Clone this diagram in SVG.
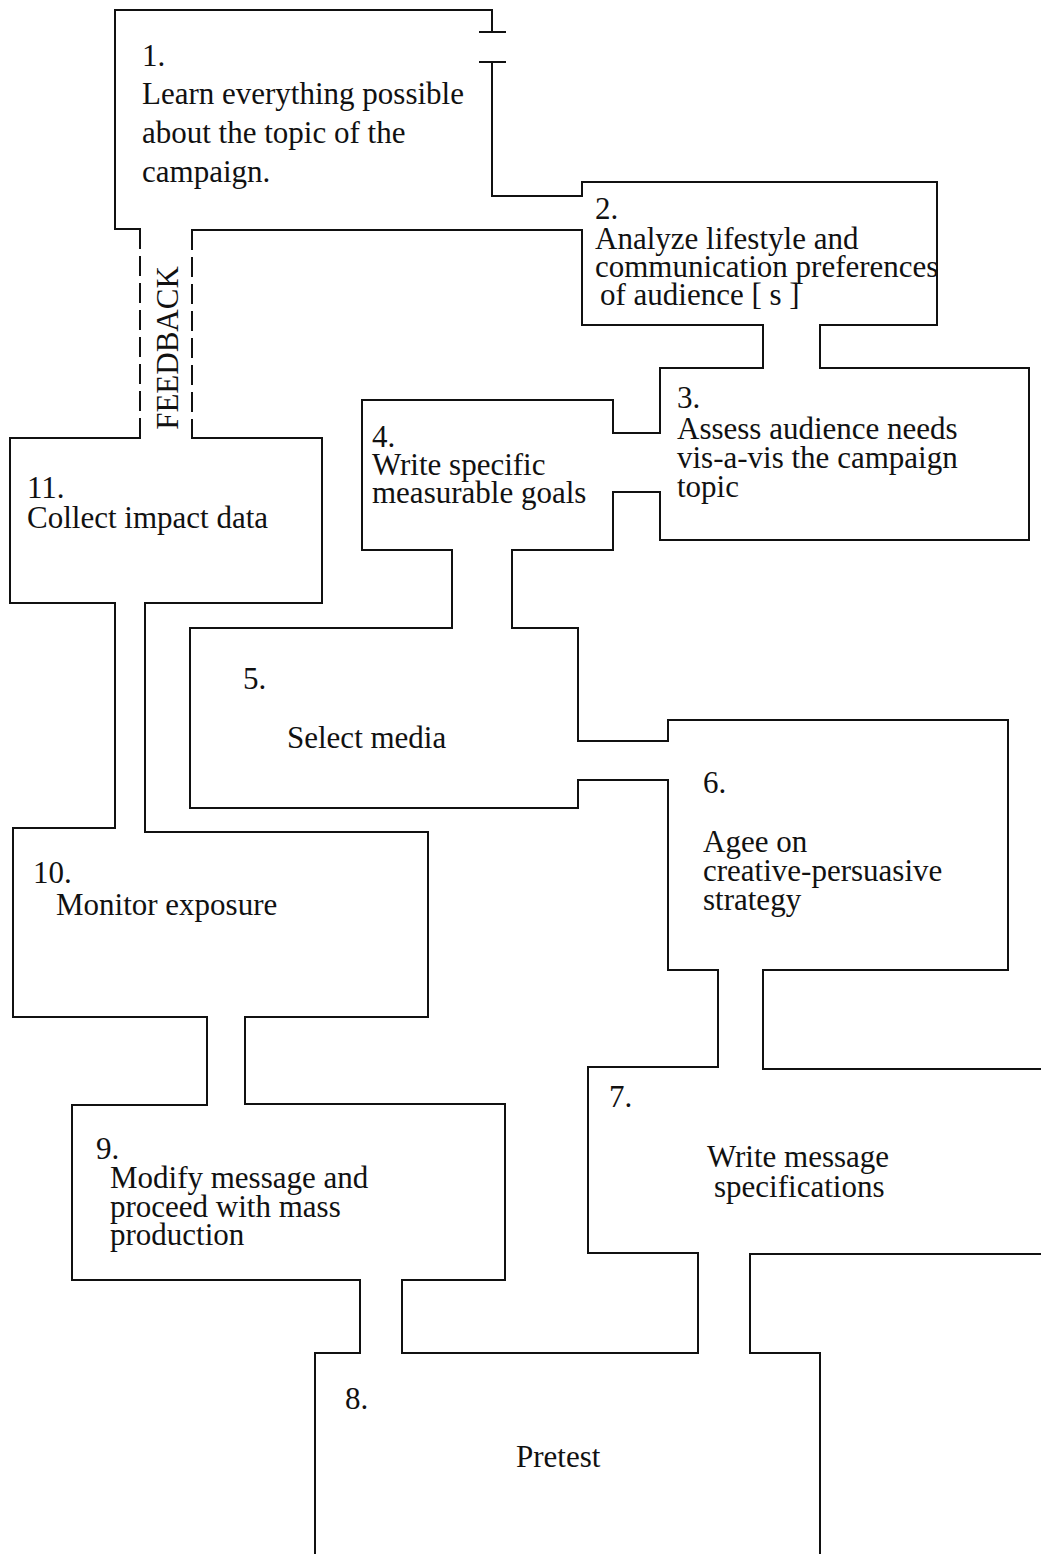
<svg xmlns="http://www.w3.org/2000/svg" width="1041" height="1554" viewBox="0 0 1041 1554">
<style>
.ln{fill:none;stroke:#111;stroke-width:2;stroke-linecap:square}
.dash{fill:none;stroke:#111;stroke-width:2;stroke-dasharray:20 7}
text{font-family:"Liberation Serif","Times New Roman",serif;font-size:31px;fill:#111}
</style>
<rect width="1041" height="1554" fill="#fff"/>
<g id="connectors">
<path class="ln" d="M480,62 H505 M492,62 V196 H582 M492,230 H582"/>
<path class="dash" d="M140,229 V438 M192,230 V438"/>
<text x="178" y="348" font-size="30" text-anchor="middle" transform="rotate(-90 178 348)">FEEDBACK</text>
<path class="ln" d="M763,325 V368 M820,325 V368"/>
<path class="ln" d="M660,433 H613 M660,492 H613"/>
<path class="ln" d="M452,550 V628 M512,550 V628"/>
<path class="ln" d="M578,741 H668 M578,780 H668"/>
<path class="ln" d="M718,970 V1067 M763,970 V1069"/>
<path class="ln" d="M698,1253 V1353 M750,1254 V1353"/>
<path class="ln" d="M360,1280 V1353 M402,1280 V1353"/>
<path class="ln" d="M207,1017 V1105 M245,1017 V1104"/>
<path class="ln" d="M115,603 V828 M145,603 V832"/>
</g>
<g id="node-1">
<path class="ln" d="M140,229 H115 V10 H492 V32 M480,32 H505 M192,230 H492"/>
<text x="142" y="66">1.</text>
<text x="142" y="104">Learn everything possible</text>
<text x="142" y="143">about the topic of the</text>
<text x="142" y="182">campaign.</text>
</g>
<g id="node-2">
<path class="ln" d="M582,196 V182 H937 V325 H820 M763,325 H582 V230"/>
<text x="595" y="219">2.</text>
<text x="595" y="249">Analyze lifestyle and</text>
<text x="595" y="277">communication preferences</text>
<text x="600" y="305">of audience [ s ]</text>
</g>
<g id="node-3">
<path class="ln" d="M763,368 H660 V433 M660,492 V540 H1029 V368 H820"/>
<text x="677" y="408">3.</text>
<text x="677" y="439">Assess audience needs</text>
<text x="677" y="468">vis-a-vis the campaign</text>
<text x="677" y="497">topic</text>
</g>
<g id="node-4">
<path class="ln" d="M613,433 V400 H362 V550 H452 M512,550 H613 V492"/>
<text x="372" y="447">4.</text>
<text x="372" y="475">Write specific</text>
<text x="372" y="503">measurable goals</text>
</g>
<g id="node-5">
<path class="ln" d="M452,628 H190 V808 H578 V780 M578,741 V628 H512"/>
<text x="243" y="689">5.</text>
<text x="287" y="748">Select media</text>
</g>
<g id="node-6">
<path class="ln" d="M668,741 V720 H1008 V970 H763 M718,970 H668 V780"/>
<text x="703" y="793">6.</text>
<text x="703" y="852">Agee on</text>
<text x="703" y="881">creative-persuasive</text>
<text x="703" y="910">strategy</text>
</g>
<g id="node-7">
<path class="ln" d="M718,1067 H588 V1253 H698 M750,1254 H1041 M763,1069 H1041"/>
<text x="609" y="1107">7.</text>
<text x="707" y="1167">Write message</text>
<text x="714" y="1197">specifications</text>
</g>
<g id="node-8">
<path class="ln" d="M698,1353 H402 M360,1353 H315 V1554 M750,1353 H820 V1554"/>
<text x="345" y="1409">8.</text>
<text x="516" y="1467">Pretest</text>
</g>
<g id="node-9">
<path class="ln" d="M360,1280 H72 V1105 H207 M245,1104 H505 V1280 H402"/>
<text x="96" y="1159">9.</text>
<text x="110" y="1188">Modify message and</text>
<text x="110" y="1217">proceed with mass</text>
<text x="110" y="1245">production</text>
</g>
<g id="node-10">
<path class="ln" d="M207,1017 H13 V828 H115 M145,832 H428 V1017 H245"/>
<text x="33" y="883">10.</text>
<text x="56" y="915">Monitor exposure</text>
</g>
<g id="node-11">
<path class="ln" d="M115,603 H10 V438 H140 M192,438 H322 V603 H145"/>
<text x="27" y="498">11.</text>
<text x="27" y="528">Collect impact data</text>
</g>
</svg>
